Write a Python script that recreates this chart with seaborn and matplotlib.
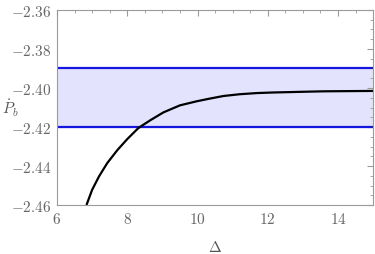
import numpy as np
import pandas as pd
import matplotlib
matplotlib.use("Agg")
import matplotlib.pyplot as plt
import seaborn as sns
from matplotlib.ticker import MultipleLocator, FuncFormatter

# curve
delta = [6.845, 7.00, 7.20, 7.43, 7.72, 8.00, 8.29, 8.36, 8.65, 9.03, 9.50, 9.98,
         10.36, 10.74, 11.20, 11.69, 12.15, 12.64, 13.10, 13.59, 14.30, 15.0]
pdot = [-2.4597, -2.4522, -2.4452, -2.4385, -2.4318, -2.4262, -2.4210, -2.4200,
        -2.4166, -2.4125, -2.4089, -2.4068, -2.4054, -2.4041, -2.4032, -2.4026,
        -2.4023, -2.4021, -2.4019, -2.4017, -2.4016, -2.4015]

band_low = -2.42
band_high = -2.39

sns.set_theme(style="white")
plt.rcParams["mathtext.fontset"] = "cm"
plt.rcParams["font.family"] = ["DejaVu Serif"]

df = pd.DataFrame({"delta": delta, "pdot": pdot})

fig = plt.figure(figsize=(3.75, 2.55), dpi=100)
ax = fig.add_axes([0.152, 0.192, 0.843, 0.765])

ax.axhspan(band_low, band_high, color="#e3e3fd", zorder=0)
ax.axhline(band_low, color="#1515e0", lw=1.6, zorder=1)
ax.axhline(band_high, color="#1515e0", lw=1.6, zorder=1)

sns.lineplot(data=df, x="delta", y="pdot", color="black", lw=1.6, ax=ax, zorder=2)

ax.set_xlim(6, 15)
ax.set_ylim(-2.46, -2.36)

ax.xaxis.set_major_locator(MultipleLocator(2))
ax.xaxis.set_minor_locator(MultipleLocator(0.5))
ax.yaxis.set_major_locator(MultipleLocator(0.02))
ax.yaxis.set_minor_locator(MultipleLocator(0.005))
ax.xaxis.set_major_formatter(FuncFormatter(lambda v, p: f"${v:.0f}$"))
ax.yaxis.set_major_formatter(FuncFormatter(lambda v, p: f"${v:.2f}$"))

gray = "#9a9a9a"
for s in ax.spines.values():
    s.set_color(gray)
    s.set_linewidth(0.8)
ax.tick_params(which="both", direction="in", top=True, right=True, color=gray,
               labelcolor="#666666", labelsize=11, pad=4)
ax.tick_params(which="major", length=4, width=0.8)
ax.tick_params(which="minor", length=2, width=0.6)

ax.set_xlabel(r"$\Delta$", color="#555555", fontsize=11, labelpad=10)
ax.set_ylabel(r"$\dot{P}_b$", color="#555555", fontsize=11, rotation=0,
              ha="center", va="center")
ax.yaxis.set_label_coords(-0.147, 0.50)

fig.savefig("out.png", dpi=100)
